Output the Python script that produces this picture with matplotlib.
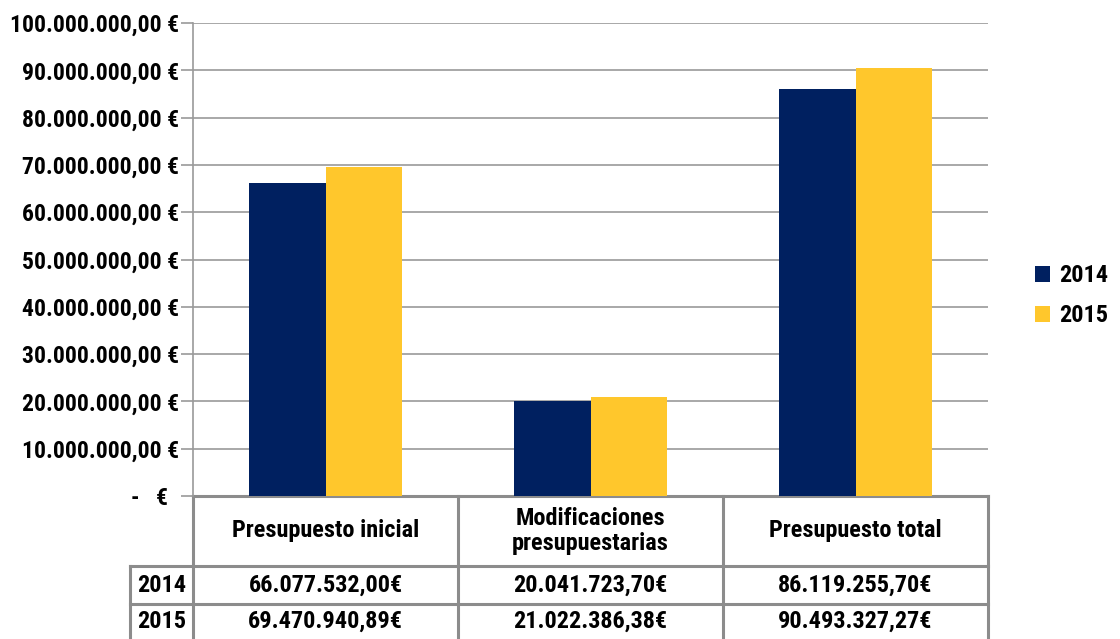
import numpy as np
import matplotlib.pyplot as plt
import matplotlib.transforms as mtransforms
from matplotlib.ticker import FuncFormatter
from matplotlib import font_manager

# DATOS
categorias = ['Presupuesto inicial', 'Modificaciones\npresupuestarias', 'Presupuesto total']
anios = ['2014', '2015']
valores_2014 = [66077532.00, 20041723.70, 86119255.70]
valores_2015 = [69470940.89, 21022386.38, 90493327.27]
colores = ['#002060', '#FFC72C']

# fuente estrecha si existe
nombres = set(f.name for f in font_manager.fontManager.ttflist)
fuente = 'Liberation Sans'
for cand in ['Liberation Sans Narrow', 'Roboto Condensed', 'DejaVu Sans Condensed']:
    if cand in nombres:
        fuente = cand
        break

plt.rcParams['font.family'] = [fuente, 'Liberation Sans', 'DejaVu Sans']
plt.rcParams['font.weight'] = 'bold'


def euros(v, pos=None):
    if v == 0:
        return '-   €  '
    s = f'{v:,.2f}'.replace(',', 'X').replace('.', ',').replace('X', '.')
    return s + ' €'


fig = plt.figure(figsize=(11.2, 6.39), dpi=100)
W, H = 1120, 639
ax = fig.add_axes([193 / W, 1 - 496 / H, 795 / W, 473 / H])

x = np.arange(len(categorias))
ancho = 0.29
ax.bar(x - ancho / 2, valores_2014, ancho, color=colores[0], label=anios[0], zorder=3)
ax.bar(x + ancho / 2, valores_2015, ancho, color=colores[1], label=anios[1], zorder=3)

ax.set_xlim(-0.5, 2.5)
ax.set_ylim(0, 100000000)
ax.set_yticks(np.arange(0, 100000001, 10000000))
ax.yaxis.set_major_formatter(FuncFormatter(euros))
ax.grid(axis='y', color='#9a9a9a', linewidth=1.2, zorder=0)
ax.set_xticks([])
ax.tick_params(axis='y', length=9, width=1.2, color='#9a9a9a', labelsize=17, pad=1)
for s in ['top', 'right', 'bottom']:
    ax.spines[s].set_visible(False)
ax.spines['left'].set_color('#9a9a9a')
ax.spines['left'].set_linewidth(1.2)

# TABLA DE DATOS
tr = mtransforms.blended_transform_factory(ax.transData, ax.transAxes)
px = 1 / 473
gris = '#8c8c8c'
lw = 2.2
y_top = 0
y_h = -70 * px
y_1 = -108 * px
y_2 = -146 * px
x_lab = -0.5 - 63 / 265

def linea(xs, ys):
    ax.plot(xs, ys, color=gris, linewidth=lw, transform=tr, clip_on=False,
            solid_capstyle='projecting')

linea([-0.5, 2.5], [y_top, y_top])
linea([x_lab, 2.5], [y_h, y_h])
linea([x_lab, 2.5], [y_1, y_1])
for xc in [-0.5, 0.5, 1.5, 2.5]:
    linea([xc, xc], [y_top, y_2])
linea([x_lab, x_lab], [y_h, y_2])

fs = 17.5
for i, c in enumerate(categorias):
    ax.text(i, (y_top + y_h) / 2, c, transform=tr, ha='center', va='center',
            fontsize=fs, linespacing=1.1)
    ax.text(i, (y_h + y_1) / 2, euros(valores_2014[i]).replace(' ', ''),
            transform=tr, ha='center', va='center', fontsize=fs)
    ax.text(i, (y_1 + y_2) / 2 + 2 * px, euros(valores_2015[i]).replace(' ', ''),
            transform=tr, ha='center', va='center', fontsize=fs)

ax.text((x_lab - 0.5) / 2, (y_h + y_1) / 2, anios[0], transform=tr,
        ha='center', va='center', fontsize=fs)
ax.text((x_lab - 0.5) / 2, (y_1 + y_2) / 2 + 2 * px, anios[1], transform=tr,
        ha='center', va='center', fontsize=fs)

ax.legend(loc='center left', bbox_to_anchor=(47 / 795 + 1, 0.423), frameon=False,
          fontsize=fs, handlelength=0.6, handleheight=0.6, handletextpad=0.4,
          labelspacing=0.7, borderaxespad=0, borderpad=0)

fig.savefig('out.png', dpi=100)
